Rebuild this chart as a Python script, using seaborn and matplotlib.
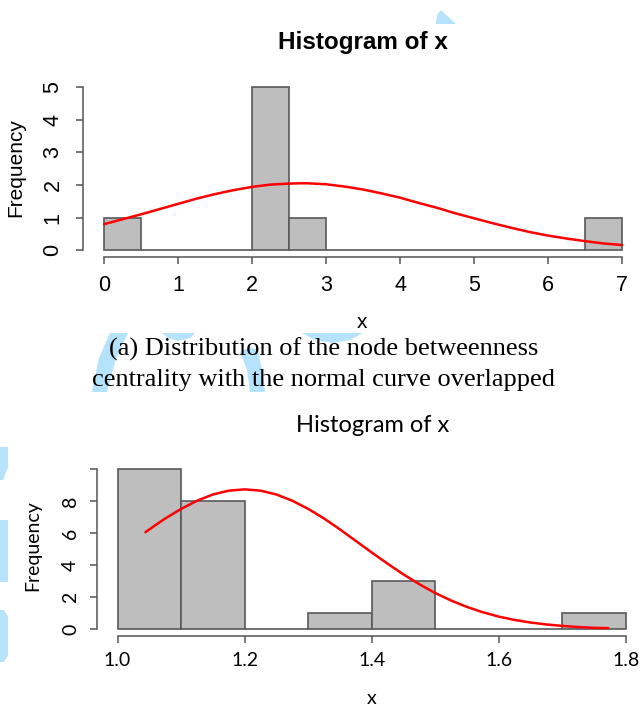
import matplotlib
matplotlib.use("Agg")
import matplotlib.pyplot as plt
from matplotlib.patches import Polygon
import numpy as np
import seaborn as sns

## data ##
# top histogram (node betweenness)
edges_a = [0, 0.5, 1, 1.5, 2, 2.5, 3, 3.5, 4, 4.5, 5, 5.5, 6, 6.5, 7]
counts_a = [1, 0, 0, 0, 5, 1, 0, 0, 0, 0, 0, 0, 0, 1]
curve_a_x = [0, 0.25, 0.5, 0.75, 1, 1.25, 1.5, 1.75, 2, 2.25, 2.5, 2.65, 2.75, 3,
             3.25, 3.5, 3.75, 4, 4.25, 4.5, 4.75, 5, 5.25, 5.5, 5.75, 6, 6.25,
             6.5, 6.75, 7]
curve_a_y = [0.80, 0.95, 1.10, 1.26, 1.42, 1.58, 1.72, 1.84, 1.94, 2.01, 2.04, 2.05,
             2.05, 2.02, 1.95, 1.86, 1.74, 1.61, 1.45, 1.30, 1.13, 0.98, 0.83,
             0.69, 0.56, 0.45, 0.36, 0.28, 0.21, 0.16]
xticks_a = [0, 1, 2, 3, 4, 5, 6, 7]
yticks_a = [0, 1, 2, 3, 4, 5]

# bottom histogram
edges_b = [1.0, 1.1, 1.2, 1.3, 1.4, 1.5, 1.6, 1.7, 1.8]
counts_b = [10, 8, 0, 1, 3, 0, 0, 1]
curve_b_x = [1.044, 1.06, 1.075, 1.10, 1.125, 1.15, 1.175, 1.20, 1.225, 1.25, 1.275,
             1.30, 1.325, 1.35, 1.375, 1.40, 1.425, 1.45, 1.475, 1.50, 1.525,
             1.55, 1.575, 1.60, 1.625, 1.65, 1.675, 1.70, 1.725, 1.75, 1.772]
curve_b_y = [6.06, 6.51, 6.91, 7.51, 8.02, 8.41, 8.65, 8.73, 8.65, 8.41, 8.02,
             7.51, 6.91, 6.23, 5.51, 4.79, 4.09, 3.42, 2.81, 2.26, 1.79,
             1.39, 1.06, 0.79, 0.58, 0.42, 0.30, 0.21, 0.14, 0.09, 0.07]
xticks_b = [1.0, 1.2, 1.4, 1.6, 1.8]
xticklabels_b = ["1.0", "1.2", "1.4", "1.6", "1.8"]
yticks_b = [0, 2, 4, 6, 8, 10]
yticklabels_b = ["0", "2", "4", "6", "8", ""]

caption = "(a) Distribution of the node betweenness\ncentrality with the normal curve overlapped"

sns.set_theme(style="white")
plt.rcParams["font.family"] = ["Liberation Sans", "DejaVu Sans"]
plt.rcParams["text.color"] = "black"

W, H = 640, 707
fig = plt.figure(figsize=(W / 100, H / 100), dpi=100)
fig.patch.set_facecolor("white")


def px(x, y):
    # pixel position (top-left origin) -> figure fraction
    return x / W, 1 - y / H


def rect(left, top, right, bottom):
    return [left / W, 1 - bottom / H, (right - left) / W, (bottom - top) / H]


BAR = "#BEBEBE"
EDGE = "#595959"
AXC = "#555555"

#===============
# faint watermark shapes
#===============
shapes = [
    [(436, 24), (437, 15), (441, 10), (456, 24)],
    [(110, 333), (128, 333), (116, 358), (107, 392), (92, 392), (99, 358)],
    [(162, 333), (195, 333), (190, 338), (178, 341), (168, 338)],
    [(240, 352), (250, 347), (258, 350), (262, 370), (265, 392), (250, 392), (247, 370)],
    [(302, 333), (363, 333), (350, 340), (333, 343), (315, 340)],
    [(0, 447), (8, 447), (8, 467), (3, 480), (0, 480)],
    [(0, 520), (8, 520), (8, 582), (0, 582)],
    [(0, 610), (4, 610), (8, 617), (8, 655), (4, 662), (0, 662)],
]
for s in shapes:
    fig.add_artist(Polygon([px(a, b) for a, b in s], closed=True,
                           facecolor="#B5E3FB", edgecolor="none",
                           transform=fig.transFigure, zorder=0))


def style_axes(ax, xb, yb, pad_x, pad_y):
    ax.set_facecolor("none")
    for side in ["top", "right"]:
        ax.spines[side].set_visible(False)
    for side in ["left", "bottom"]:
        ax.spines[side].set_color(AXC)
        ax.spines[side].set_linewidth(1.1)
    ax.spines["bottom"].set_bounds(*xb)
    ax.spines["left"].set_bounds(*yb)
    ax.tick_params(axis="both", direction="out", length=5, width=1.1, color=AXC,
                   labelcolor="black", left=True, bottom=True)
    ax.tick_params(axis="x", pad=pad_x)
    ax.tick_params(axis="y", pad=pad_y)
    ax.set_xlabel("")
    ax.set_ylabel("")
    ax.grid(False)


#===============
# Top histogram
#===============
ax1 = fig.add_axes(rect(83, 80.3, 636.8, 257.3))
centers_a = [(edges_a[i] + edges_a[i + 1]) / 2 for i in range(len(counts_a))]
sns.histplot(x=centers_a, weights=counts_a, bins=edges_a, stat="count", ax=ax1,
             color=BAR, edgecolor=EDGE, linewidth=1.2, alpha=1)
sns.lineplot(x=curve_a_x, y=curve_a_y, ax=ax1, color="#FF0000", linewidth=1.8, sort=False)
ax1.set_xlim(-0.284, 7.2)
ax1.set_ylim(-0.214, 5.2)
ax1.set_xticks(xticks_a)
ax1.set_xticklabels([str(t) for t in xticks_a], fontsize=15.5)
ax1.set_yticks(yticks_a)
ax1.set_yticklabels([str(t) for t in yticks_a], fontsize=15.5, rotation=90, va="center")
style_axes(ax1, (0, 7), (0, 5), 8, 9)

fig.text(*px(363, 43), "Histogram of x", ha="center", va="center",
         fontsize=17.5, fontweight="bold")
fig.text(*px(16, 168), "Frequency", ha="center", va="center", rotation=90, fontsize=15)
fig.text(*px(362, 322), "x", ha="center", va="center", fontsize=15)

fig.text(*px(324, 364), caption, ha="center", va="center", fontsize=19,
         family=["Liberation Serif", "DejaVu Serif"], linespacing=1.45)

#===============
# Bottom histogram
#===============
ax2 = fig.add_axes(rect(97, 462.6, 638.7, 635.7))
centers_b = [(edges_b[i] + edges_b[i + 1]) / 2 for i in range(len(counts_b))]
sns.histplot(x=centers_b, weights=counts_b, bins=edges_b, stat="count", ax=ax2,
             color=BAR, edgecolor=EDGE, linewidth=1.2, alpha=1)
sns.lineplot(x=curve_b_x, y=curve_b_y, ax=ax2, color="#FF0000", linewidth=1.8, sort=False)
ax2.set_xlim(0.9677, 1.82)
ax2.set_ylim(-0.4, 10.4)
ax2.set_xticks(xticks_b)
ax2.set_xticklabels(xticklabels_b, fontsize=14, family=["Lato", "DejaVu Sans"])
ax2.set_yticks(yticks_b)
ax2.set_yticklabels(yticklabels_b, fontsize=14, rotation=90, va="center",
                    family=["Lato", "DejaVu Sans"])
style_axes(ax2, (1.0, 1.8), (0, 10), 7, 8)

fig.text(*px(372.5, 425), "Histogram of x", ha="center", va="center",
         fontsize=17, family=["Lato", "DejaVu Sans"])
fig.text(*px(33, 546), "Frequency", ha="center", va="center", rotation=90,
         fontsize=14, family=["Lato", "DejaVu Sans"])
fig.text(*px(371.6, 699), "x", ha="center", va="center", fontsize=14,
         family=["Lato", "DejaVu Sans"])

fig.savefig("out.png", dpi=100)
